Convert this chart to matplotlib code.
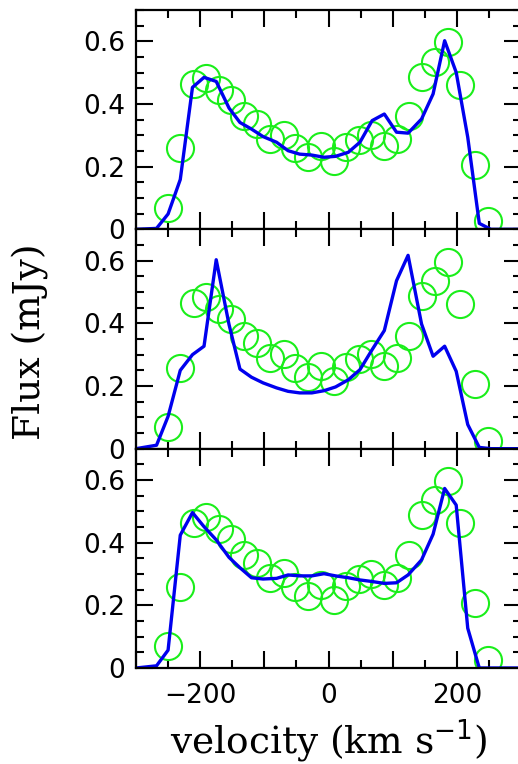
"""Three stacked velocity profiles: observed flux (circles) vs model (line)."""
import matplotlib
matplotlib.use('Agg')
import matplotlib.pyplot as plt
import matplotlib.ticker as ticker

# observed points (same in every panel)
obs_vel = [-250, -231, -210, -191, -170, -152, -132, -111, -91, -70, -52, -32, -12,
           8, 28, 47, 67, 87, 107, 126, 146, 166, 186, 205, 228, 248]
obs_flux = [0.069, 0.258, 0.464, 0.483, 0.445, 0.413, 0.361, 0.336, 0.288, 0.302,
            0.258, 0.230, 0.265, 0.217, 0.262, 0.285, 0.301, 0.265, 0.288, 0.361,
            0.487, 0.535, 0.597, 0.462, 0.206, 0.026]

# model velocity grid
mod_vel = [-300, -268, -250, -231, -212, -194, -175, -155, -138, -120, -102, -81, -63,
           -45, -26, -7, 11, 31, 49, 68, 87, 106, 124, 145, 163, 181, 199, 217,
           235, 253, 300]

model_top = [0, 0.003, 0.049, 0.159, 0.453, 0.485, 0.472, 0.387, 0.341, 0.320, 0.296,
             0.278, 0.251, 0.240, 0.237, 0.230, 0.233, 0.246, 0.278, 0.347, 0.368,
             0.310, 0.307, 0.352, 0.432, 0.602, 0.501, 0.294, 0.019, 0, 0]
model_mid = [0, 0.011, 0.103, 0.250, 0.300, 0.327, 0.603, 0.396, 0.254, 0.228, 0.210,
             0.194, 0.183, 0.178, 0.178, 0.185, 0.197, 0.220, 0.252, 0.316, 0.377,
             0.536, 0.617, 0.398, 0.295, 0.327, 0.247, 0.077, 0.004, 0, 0]
model_bot = [0, 0.007, 0.057, 0.424, 0.496, 0.451, 0.409, 0.353, 0.320, 0.288, 0.284,
             0.286, 0.297, 0.294, 0.294, 0.301, 0.294, 0.288, 0.281, 0.276, 0.270,
             0.272, 0.297, 0.345, 0.427, 0.573, 0.520, 0.127, 0, 0, 0]

models = [model_top, model_mid, model_bot]

plt.rcParams['font.family'] = 'DejaVu Sans'

W, H = 518, 764
fig = plt.figure(figsize=(W / 100, H / 100), dpi=100)

left = 136 / W
right = 521 / W
top_px, bot_px = 10, 668
ph = (bot_px - top_px) / 3

axes = []
for i, model in enumerate(models):
    y0 = 1 - (top_px + (i + 1) * ph) / H
    ax = fig.add_axes([left, y0, right - left, ph / H])
    ax.plot(obs_vel, obs_flux, 'o', mfc='none', mec='#1aee1a', ms=19.5, mew=1.5)
    ax.plot(mod_vel, model, '-', color='#0000ee', lw=2.4)
    ax.set_xlim(-300, 300)
    ax.set_ylim(0, 0.7)

    ax.xaxis.set_major_locator(ticker.MultipleLocator(100))
    ax.xaxis.set_minor_locator(ticker.MultipleLocator(50))
    ax.yaxis.set_major_locator(ticker.MultipleLocator(0.2))
    ax.yaxis.set_minor_locator(ticker.MultipleLocator(0.05))
    ax.yaxis.set_major_formatter(ticker.FuncFormatter(
        lambda v, p: '0' if abs(v) < 1e-9 else f'{v:.1f}'))
    ax.tick_params(which='both', direction='in', top=True, right=True, width=1.5)
    ax.tick_params(which='major', length=12, labelsize=19, pad=8)
    ax.tick_params(which='minor', length=6)
    for s in ax.spines.values():
        s.set_linewidth(1.6)

    if i < 2:
        ax.tick_params(labelbottom=False)
    else:
        ax.tick_params(axis='x', pad=11)
        ax.xaxis.set_major_formatter(ticker.FuncFormatter(
            lambda v, p: (f'{int(v)}'.replace('-', '\u2212') if round(v) % 200 == 0 else '')))
    axes.append(ax)

axes[2].set_xlabel('velocity (km s$^{-1}$)', family='DejaVu Serif', fontsize=27,
                   labelpad=6)
fig.text(0.058, 1 - 342 / H, 'Flux (mJy)', family='DejaVu Serif', fontsize=27,
         rotation=90, ha='center', va='center')

fig.savefig('out.png', dpi=100)
